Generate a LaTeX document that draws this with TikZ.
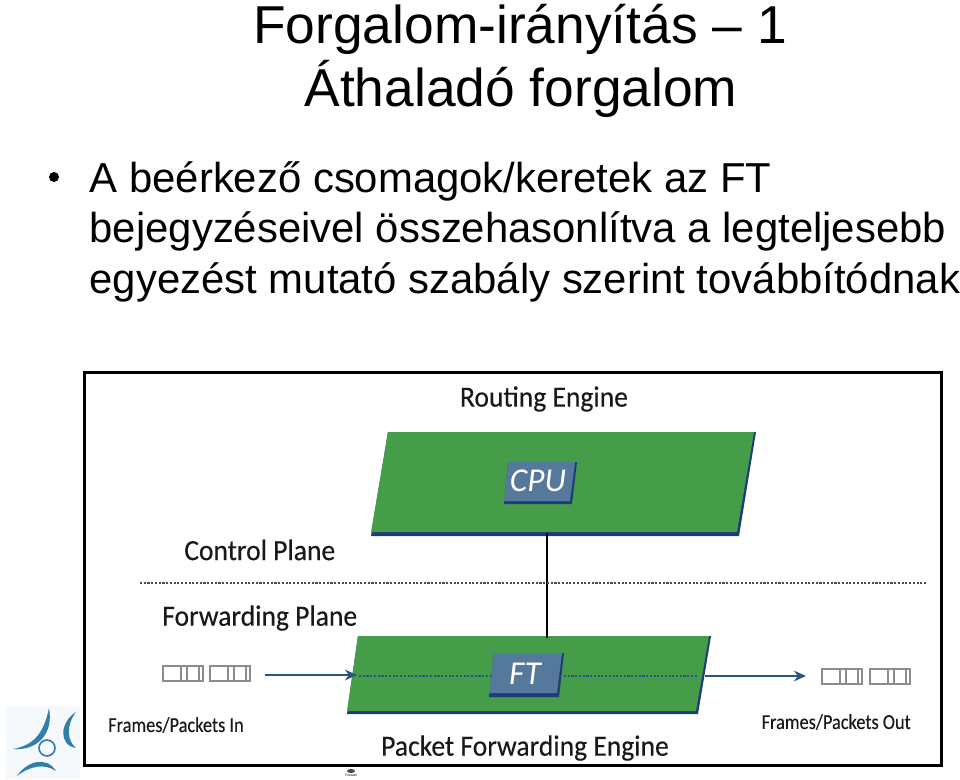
\documentclass[tikz,border=0pt]{standalone}
\usepackage{fontspec}
\setmainfont{Liberation Sans}
\newfontfamily\labelfont[FakeBold=0.25,FakeStretch=0.94]{Carlito}
\newfontfamily\smalllabelfont[FakeBold=0.2,FakeStretch=0.86]{Carlito}
\newfontfamily\chipfont{Carlito}
\usetikzlibrary{arrows.meta,calc}
\definecolor{platefill}{HTML}{459C49}
\definecolor{plateedge}{HTML}{1F3C78}
\definecolor{chipfill}{HTML}{55799B}
\definecolor{framegray}{HTML}{8C8C8C}
\definecolor{logoblue}{HTML}{2F7FA8}
\definecolor{arrowblue}{HTML}{2B5580}
\tikzset{
  titletext/.style={anchor=base, font=\fontsize{40}{42}\selectfont},
  bodytext/.style={anchor=base west, font=\fontsize{31.4}{34}\selectfont},
  biglabel/.style={text=black!90, inner sep=0pt, font=\labelfont\fontsize{22}{22}\selectfont},
  smalllabel/.style={text=black!90, inner sep=0pt, font=\smalllabelfont\fontsize{16}{16}\selectfont},
  chiptext/.style={text=white, font=\chipfont\itshape\fontsize{25}{25}\selectfont},
  flowline/.style={arrowblue, line width=2pt, -{Stealth[length=9pt,width=8pt]}},
  dotline/.style={arrowblue, line width=1.8pt, dash pattern=on 1.6pt off 1.2pt},
  ctrlline/.style={black!70, line width=1.8pt, dash pattern=on 1.6pt off 1.2pt},
  framebox/.style={draw=framegray, line width=1.9pt, fill=white},
}
\newcommand{\framecell}[2]{%
  \draw[framebox] (#1,#2) rectangle +(40,15);
  \draw[framegray, line width=1.1pt] ($(#1,#2)+(18,0)$) -- +(0,15) ($(#1,#2)+(24,0)$) -- +(0,15) ($(#1,#2)+(36,0)$) -- +(0,15);
}
\begin{document}
\begin{tikzpicture}[x=0.75pt, y=-0.75pt, >=Stealth]
    \useasboundingbox (0,0) rectangle (960,779);

    % slide text
    \node[titletext] (title1) at (520,43) {Forgalom-irányítás – 1};
    \node[titletext] (title2) at (521,106) {Áthaladó forgalom};
    \node[circle, fill, inner sep=0pt, minimum size=7.5pt] (bullet) at (54,177) {};
    \node[bodytext] (line1) at (85,192) {A beérkező csomagok/keretek az FT};
    \node[bodytext] (line2) at (85,242) {bejegyzéseivel összehasonlítva a legteljesebb};
    \node[bodytext] (line3) at (85,293) {egyezést mutató szabály szerint továbbítódnak};

    % logo
    \fill[logoblue!5] (6,706) rectangle (80,779);
    \fill[logoblue] (49,708) .. controls (44,732) and (35,745) .. (13,749) .. controls (36,751) and (54,735) .. (49,708);
    \fill[logoblue] (76,712) .. controls (60,722) and (58,745) .. (76,748) .. controls (67,741) and (66,725) .. (76,712);
    \fill[logoblue] (17,776) .. controls (26,762) and (46,755) .. (56,771) .. controls (44,763) and (30,766) .. (17,776);
    \draw[logoblue, line width=1.2pt] (47,748) circle (8);

    % figure
    \node[draw, line width=2.6pt, minimum width=643pt, minimum height=295pt, inner sep=0pt] (figframe) at (513,569) {};

    \fill[plateedge] (388,432) -- (756,432) -- (739,536) -- (371,536) -- cycle;
    \fill[platefill] (388,432) -- (754,432) -- (737,532) -- (371,532) -- cycle;
    \fill[plateedge] (358,636) -- (711,636) -- (698,714) -- (347,714) -- cycle;
    \fill[platefill] (358,636) -- (709,636) -- (696,711) -- (347,711) -- cycle;

    \coordinate (upperplate) at (547,533);
    \coordinate (lowerplate) at (547,638);
    \draw[line width=1.8pt] (upperplate) -- (lowerplate);

    \draw[ctrlline] (140,583) -- (926,583);

    \fill[plateedge] (508,462) -- (577,462) -- (572,504) -- (504,504) -- cycle;
    \fill[chipfill] (508,462) -- (575,462) -- (570,501) -- (504,501) -- cycle;
    \node[chiptext] (cpu) at (538,481) {CPU};

    \fill[plateedge] (494,653) -- (564,653) -- (559,697) -- (489,697) -- cycle;
    \fill[chipfill] (494,653) -- (562,653) -- (557,693) -- (489,693) -- cycle;
    \node[chiptext] (ft) at (525,674) {FT};

    \coordinate (infrom) at (265,675);
    \coordinate (into) at (357,675);
    \coordinate (outfrom) at (705,676);
    \coordinate (outto) at (806,676);
    \draw[flowline] (infrom) -- (into);
    \draw[flowline] (outfrom) -- (outto);
    \draw[dotline] (359,676) -- (493,676);
    \draw[dotline] (564,676) -- (698,676);

    \framecell{163}{666}
    \framecell{210}{666}
    \framecell{822}{669}
    \framecell{870}{669}

    \node[biglabel] (routing) at (544,399) {Routing Engine};
    \node[biglabel, anchor=west] (control) at (184,550) {Control Plane};
    \node[biglabel, anchor=west] (forwarding) at (162,618) {Forwarding Plane};
    \node[biglabel] (pfe) at (525,748) {Packet Forwarding Engine};
    \node[smalllabel, anchor=west] (framesin) at (108,725) {Frames/Packets In};
    \node[smalllabel, anchor=east] (framesout) at (911,722) {Frames/Packets Out};

    % small mark below the figure
    \fill[black!70] (351,771) ellipse (4 and 2);
    \node[font=\fontsize{2.5}{3}\selectfont, inner sep=0pt] (firewall) at (351,775.5) {Firewall};
\end{tikzpicture}
\end{document}
